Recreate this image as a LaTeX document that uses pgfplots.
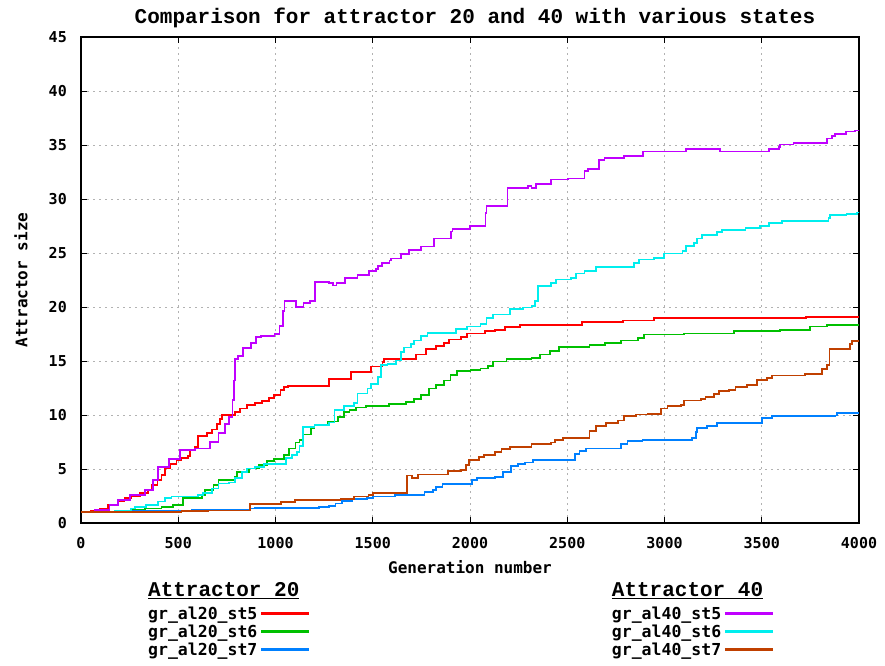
\documentclass[border=0pt]{standalone}
\usepackage{fontspec}
\usepackage{pgfplots}
\pgfplotsset{compat=1.18}
\newfontfamily\dvm{DejaVu Sans Mono}
\newfontfamily\lmono{Liberation Mono}
\definecolor{cred}{HTML}{FF0000}
\definecolor{cgreen}{HTML}{00C000}
\definecolor{cblue}{HTML}{0080FF}
\definecolor{cpurple}{HTML}{C000FF}
\definecolor{ccyan}{HTML}{00EEEE}
\definecolor{cbrown}{HTML}{C04000}
\begin{document}
\begin{tikzpicture}
\path[use as bounding box] (0,0) rectangle (885pt,665pt);
\begin{axis}[
  at={(81pt,142pt)}, anchor=south west,
  scale only axis, width=778pt, height=486pt,
  xmin=0, xmax=4000, ymin=0, ymax=45,
  xtick={0,500,...,4000}, ytick={0,5,...,45},
  major tick length=6pt,
  axis line style={line width=1.2pt},
  every tick/.style={black, line width=1pt},
  grid=major,
  major grid style={gray!60, line width=1pt, dash pattern=on 2pt off 4pt},
  /pgf/number format/1000 sep={},
  /pgf/number format/assume math mode=true,
  ticklabel style={font=\dvm\bfseries\fontsize{15}{18}\selectfont},
  xticklabel style={anchor=base, yshift=-25pt},
  yticklabel style={anchor=east, inner sep=0pt, xshift=-14pt},
  title={Comparison for attractor 20 and 40 with various states},
  title style={at={(0.5,1)}, anchor=base, yshift=8pt, xshift=5pt, font=\lmono\bfseries\fontsize{21}{24}\selectfont},
  xlabel={Generation number},
  xlabel style={at={(axis description cs:0.5,0)}, anchor=base, yshift=-50pt, font=\dvm\bfseries\fontsize{16}{19}\selectfont},
  ylabel={Attractor size},
  ylabel style={at={(axis description cs:-0.077,0.5)}, anchor=center, font=\dvm\bfseries\fontsize{16}{19}\selectfont},
  const plot,
  every axis plot/.append style={line width=1.8pt},
  legend columns=4, transpose legend,
  legend plot pos=right,
  legend cell align=left,
  legend image code/.code={\draw[#1, line width=3.5pt] (0pt,0pt) -- (48pt,0pt);},
  legend style={at={(axis description cs:0.0835,-0.117)}, anchor=north west,
    draw=none, fill=none, inner sep=0pt,
    font=\dvm\bfseries\fontsize{16.5}{19}\selectfont,
    nodes={inner sep=2pt},
    row sep=0pt,
    /tikz/row 1/.style={row sep=5pt},
    /tikz/column 2/.style={column sep=299pt}},
]
\addlegendimage{empty legend}
\addlegendentry{\rlap{\lmono\bfseries\fontsize{21}{24}\selectfont\underline{Attractor 20}}}
\addplot[cred] coordinates {(0,1) (52,1.1) (95,1.35) (138,1.65) (190,2.0) (224,2.3) (259,2.45) (302,2.75) (345,3.05) (365,3.5) (393,4.0) (414,4.45) (431,5.05) (457,5.5) (491,5.85) (517,6.0) (552,6.2) (560,6.75) (586,7.05) (600,7.7) (603,8.05) (646,8.3) (672,8.65) (698,9.2) (715,9.6) (724,10.0) (793,10.3) (819,10.6) (853,10.9) (896,11.1) (931,11.3) (965,11.55) (991,11.85) (1026,12.3) (1043,12.6) (1064,12.7) (1277,13.35) (1388,14.0) (1490,14.5) (1550,14.9) (1559,15.2) (1721,15.6) (1772,16.1) (1824,16.4) (1866,16.7) (1892,17.0) (1952,17.25) (1986,17.55) (2077,17.75) (2128,17.9) (2179,18.15) (2256,18.3) (2575,18.6) (2785,18.75) (2947,19.0) (3728,19.1) (4000,19.1)};
\addlegendentry{gr\_al20\_st5}
\addplot[cgreen] coordinates {(0,1) (267,1.2) (328,1.35) (414,1.5) (474,1.65) (526,2.3) (621,2.6) (638,3.05) (681,3.5) (707,4.0) (793,4.3) (802,4.75) (862,5.05) (914,5.4) (957,5.75) (991,5.95) (1043,6.3) (1069,6.9) (1103,7.45) (1123,7.7) (1140,8.2) (1183,8.8) (1200,9.1) (1268,9.4) (1320,9.85) (1354,10.3) (1380,10.5) (1414,10.7) (1465,10.8) (1585,11.0) (1670,11.2) (1713,11.5) (1747,11.85) (1790,12.45) (1824,12.75) (1866,13.2) (1900,13.7) (1935,14.1) (2003,14.2) (2054,14.3) (2094,14.55) (2120,14.95) (2188,15.15) (2316,15.3) (2358,15.6) (2410,15.9) (2456,16.3) (2614,16.45) (2694,16.7) (2776,16.9) (2865,17.15) (2896,17.45) (3100,17.55) (3356,17.75) (3595,17.9) (3749,18.2) (3834,18.35) (4000,18.35)};
\addlegendentry{gr\_al20\_st6}
\addplot[cblue] coordinates {(0,1) (260,1.1) (500,1.15) (570,1.2) (870,1.35) (896,1.4) (1224,1.45) (1275,1.55) (1308,1.8) (1342,2.05) (1393,2.2) (1469,2.3) (1503,2.45) (1614,2.6) (1766,2.85) (1808,3.05) (1825,3.35) (1859,3.6) (2012,4.0) (2037,4.15) (2128,4.25) (2171,4.7) (2210,5.3) (2248,5.5) (2282,5.6) (2324,5.85) (2538,6.4) (2563,6.65) (2597,6.9) (2776,7.3) (2810,7.6) (2887,7.7) (3143,7.9) (3160,8.4) (3169,8.8) (3220,9.0) (3271,9.25) (3501,9.75) (3553,9.9) (3877,9.95) (3885,10.2) (4000,10.2)};
\addlegendentry{gr\_al20\_st7}
\addlegendimage{empty legend}
\addlegendentry{\rlap{\lmono\bfseries\fontsize{21}{24}\selectfont\underline{Attractor 40}}}
\addplot[cpurple] coordinates {(0,1) (69,1.2) (147,1.65) (190,2.1) (250,2.6) (328,3.05) (370,4.0) (397,5.2) (452,5.9) (508,6.75) (586,6.9) (664,7.5) (707,8.3) (741,9.2) (759,9.85) (779,11.4) (785,13.2) (790,15.2) (807,15.5) (833,16.2) (876,16.7) (901,17.2) (927,17.35) (995,17.5) (1021,18.25) (1038,19.6) (1046,20.55) (1106,20.0) (1144,20.4) (1178,20.55) (1205,22.35) (1277,22.2) (1297,22.0) (1314,22.25) (1357,22.7) (1422,23.0) (1479,23.3) (1518,23.5) (1527,23.8) (1547,24.1) (1586,24.3) (1592,24.5) (1646,24.9) (1688,25.3) (1748,25.6) (1816,26.35) (1901,27.0) (1910,27.2) (2000,27.5) (2080,28.7) (2085,29.35) (2193,31.05) (2299,31.2) (2316,31.05) (2341,31.4) (2418,31.8) (2503,31.9) (2589,32.6) (2606,32.8) (2665,33.6) (2691,33.8) (2790,34.0) (2891,34.4) (3112,34.65) (3285,34.4) (3536,34.65) (3587,34.8) (3595,35.05) (3663,35.2) (3834,35.6) (3860,35.85) (3877,36.0) (3933,36.25) (3979,36.35) (4000,36.4)};
\addlegendentry{gr\_al40\_st5}
\addplot[ccyan] coordinates {(0,1) (172,1.15) (259,1.35) (276,1.5) (336,1.65) (397,2.0) (431,2.3) (465,2.45) (603,2.6) (629,2.75) (672,3.2) (707,3.65) (759,3.75) (793,4.15) (828,4.75) (853,5.05) (896,5.15) (940,5.5) (1052,6.0) (1086,6.3) (1110,6.6) (1123,7.1) (1140,8.9) (1200,9.1) (1277,9.3) (1303,10.5) (1354,10.8) (1405,11.1) (1422,12.0) (1473,12.45) (1491,12.9) (1525,13.5) (1542,14.6) (1576,14.75) (1619,15.05) (1644,15.8) (1661,16.25) (1695,16.55) (1713,16.9) (1747,17.35) (1781,17.6) (1926,17.95) (1986,18.2) (2054,18.4) (2085,19.0) (2120,19.3) (2205,19.8) (2273,19.95) (2316,20.1) (2333,20.55) (2350,21.95) (2418,22.25) (2444,22.55) (2520,22.7) (2546,23.1) (2589,23.3) (2648,23.7) (2845,24.1) (2870,24.4) (2947,24.55) (2998,24.95) (3092,25.2) (3109,25.65) (3152,25.95) (3169,26.35) (3194,26.7) (3271,26.95) (3297,27.1) (3416,27.35) (3493,27.5) (3536,27.75) (3604,28.0) (3843,28.25) (3851,28.5) (3936,28.6) (3988,28.75) (4000,28.8)};
\addlegendentry{gr\_al40\_st6}
\addplot[cbrown] coordinates {(0,1) (517,1.1) (654,1.15) (867,1.75) (1030,1.95) (1100,2.1) (1334,2.2) (1402,2.45) (1478,2.6) (1503,2.8) (1678,4.4) (1700,4.15) (1732,4.5) (1885,4.8) (1953,4.9) (1978,5.35) (1995,5.85) (2046,6.1) (2071,6.3) (2128,6.6) (2162,6.85) (2205,7.05) (2316,7.35) (2418,7.45) (2435,7.7) (2478,7.9) (2614,8.55) (2648,8.95) (2700,9.25) (2759,9.5) (2793,9.9) (2853,10.05) (2913,10.1) (2981,10.6) (3015,10.8) (3083,10.9) (3100,11.35) (3186,11.45) (3211,11.7) (3254,11.95) (3280,12.25) (3331,12.3) (3365,12.6) (3425,12.8) (3476,13.25) (3527,13.4) (3553,13.65) (3723,13.8) (3809,14.25) (3834,14.65) (3848,16.1) (3953,16.55) (3962,16.85) (4000,16.85)};
\addlegendentry{gr\_al40\_st7}
\end{axis}
\end{tikzpicture}
\end{document}
